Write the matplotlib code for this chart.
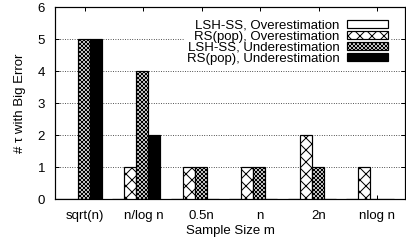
import matplotlib.pyplot as plt
import numpy as np

plt.rcParams['font.family'] = ['Liberation Sans', 'DejaVu Sans']
plt.rcParams['hatch.linewidth'] = 1.0

categories = ['sqrt(n)', 'n/log n', '0.5n', 'n', '2n', 'nlog n']
series_names = ['LSH-SS, Overestimation', 'RS(pop), Overestimation',
                'LSH-SS, Underestimation', 'RS(pop), Underestimation']
lsh_over = [0, 0, 0, 0, 0, 0]
rs_over = [0, 1, 1, 1, 2, 1]
lsh_under = [5, 4, 1, 1, 1, 0]
rs_under = [5, 2, 0, 0, 0, 0]

series = [lsh_over, rs_over, lsh_under, rs_under]
fills = ['white', 'white', 'white', 'black']
hatches = [None, 'xx', 'xxxxxx', None]

# dpi 72 so hatch spacing comes out like the gnuplot patterns
fig = plt.figure(figsize=(406 / 72, 247 / 72), dpi=72)
ax = fig.add_axes([55 / 406, 48 / 247, 350 / 406, 192 / 247])

x = np.arange(len(categories))
width = 0.205
for i, (vals, fc, h, name) in enumerate(zip(series, fills, hatches, series_names)):
    ax.bar(x - 0.427 + width * i, vals, width, color=fc, edgecolor='black',
           hatch=h, linewidth=1.2, label=name, zorder=3)

ax.set_xlim(-0.514, 5.48)
ax.set_ylim(0, 6)
ax.set_xticks(x)
ax.set_xticklabels(categories)
ax.set_yticks(range(7))
ax.tick_params(direction='in', length=4, width=1, top=True, right=True,
               labelsize=13.2)
ax.tick_params(axis='x', pad=11)
ax.tick_params(axis='y', pad=10)
ax.yaxis.grid(True, linestyle=(0, (1, 2)), color='black', linewidth=0.8)
ax.set_axisbelow(True)
for s in ax.spines.values():
    s.set_linewidth(1.2)

ax.set_xlabel('Sample Size m', fontsize=13.2, labelpad=3)
ax.set_ylabel('# \u03c4 with Big Error', fontsize=13.2, labelpad=11)

leg = ax.legend(loc='upper right', bbox_to_anchor=(0.975, 0.975), fontsize=13.2,
                markerfirst=False, handlelength=3.1, handleheight=0.5,
                labelspacing=-0.08, borderpad=0.1, handletextpad=0.6,
                frameon=True, fancybox=False, framealpha=1)
leg.get_frame().set_edgecolor('none')

fig.savefig('out.png', dpi=72)
